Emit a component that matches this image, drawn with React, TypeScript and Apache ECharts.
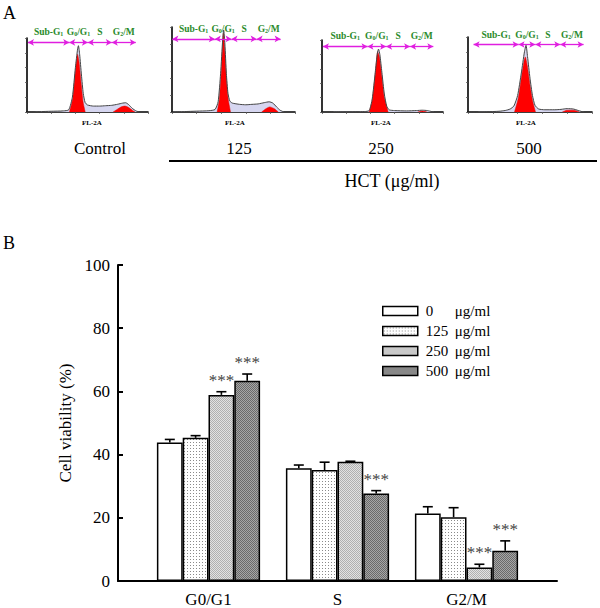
import React, { useEffect, useRef } from 'react';
import * as echarts from 'echarts';

const FONT = '"Liberation Serif", "Times New Roman", Times, serif';

// ---------- Panel A: flow cytometry histograms ----------
const DOSE_LABELS = ['Control', '125', '250', '500'];
const GATE_LABELS = ['Sub-G1', 'G0/G1', 'S', 'G2/M'];
// gate boundaries (FL-2A channel) for each histogram
const GATES_CONTROL = [8, 349, 503, 701, 899];
const GATES_125 = [3, 348, 484, 688, 883];
const GATES_250 = [8, 376, 530, 728, 920];
const GATES_500 = [45, 408, 543, 744, 932];
const GATE_LEVEL = [94, 86, 91, 90];

// total DNA histogram outlines [channel, % of axis height]
const OUTLINE_CONTROL = [[0,0],[100,0.5],[200,1],[300,1.5],[345,3],[375,20],[400,60],[418,85],[425,89.6],[435,78],[450,50],[465,25],[480,13],[500,9.5],[550,8],[600,8],[650,8.5],[700,9],[750,10.5],[790,12],[815,12.5],[840,10],[870,5],[900,1.5],[930,0]];
const OUTLINE_125 = [[0,0],[100,0.5],[200,1],[300,1.5],[350,3],[375,12],[395,45],[412,85],[420,96.5],[430,80],[442,45],[455,22],[470,13],[490,10.5],[550,9],[600,8.5],[650,9],[700,9.5],[750,11],[790,12],[820,10.5],[850,6],[880,2],[910,0]];
const OUTLINE_250 = [[0,0],[200,0.3],[350,0.6],[390,2],[415,18],[440,55],[458,82],[467,87.4],[478,80],[495,55],[515,25],[535,8],[555,3],[600,2],[700,1.5],[780,2],[830,2.5],[870,2],[910,0.5],[950,0]];
const OUTLINE_500 = [[0,0],[150,0.3],[250,1],[300,2],[340,4],[370,8],[400,22],[430,52],[455,80],[468,89],[480,74],[500,45],[520,22],[540,9],[570,4],[620,3],[700,3],[750,3.5],[800,4.5],[850,4],[880,2.5],[920,0.5],[950,0]];
// fitted G0/G1 peaks (red)
const G1_CONTROL = [[351,0],[378,18],[400,55],[418,78],[430,68],[448,38],[465,12],[481,0]];
const G1_125 = [[367,0],[385,15],[400,45],[414,85],[418,92.6],[428,75],[442,40],[458,14],[476,0]];
const G1_250 = [[390,0],[415,16],[440,52],[460,83.7],[475,76],[495,48],[515,20],[547,0]];
const G1_500 = [[375,0],[405,18],[430,45],[452,68],[462,73.5],[478,62],[500,36],[522,14],[545,0]];
// fitted G2/M peaks (red)
const G2_CONTROL = [[711,0],[745,3.5],[780,7],[810,8],[840,6],[870,2.5],[893,0]];
const G2_125 = [[729,0],[760,3.5],[795,6],[830,4],[864,0]];
const G2_250 = [[790,0],[830,1.5],[870,0]];
const G2_500 = [[760,0],[800,2.5],[850,2.5],[900,0]];

const GATES = [GATES_CONTROL, GATES_125, GATES_250, GATES_500];
const OUTLINES = [OUTLINE_CONTROL, OUTLINE_125, OUTLINE_250, OUTLINE_500];
const G1_PEAKS = [G1_CONTROL, G1_125, G1_250, G1_500];
const G2_PEAKS = [G2_CONTROL, G2_125, G2_250, G2_500];

// ---------- Panel B: cell cycle distribution ----------
const PHASES = ['G0/G1', 'S', 'G2/M'];
const DOSES = ['0', '125', '250', '500'];
const MEAN_0 = [43.8, 35.7, 21.4];
const MEAN_125 = [45.3, 35.1, 20.2];
const MEAN_250 = [58.9, 37.7, 4.3];
const MEAN_500 = [63.4, 27.7, 9.6];
const ERR_0 = [1.0, 1.0, 2.1];
const ERR_125 = [0.7, 2.5, 3.0];
const ERR_250 = [1.0, 0.2, 1.0];
const ERR_500 = [2.1, 0.9, 3.1];
const SIG_0 = [false, false, false];
const SIG_125 = [false, false, false];
const SIG_250 = [true, false, true];
const SIG_500 = [true, true, true];
const Y_TICKS = [0, 20, 40, 60, 80, 100];

const MEANS = [MEAN_0, MEAN_125, MEAN_250, MEAN_500];
const ERRS = [ERR_0, ERR_125, ERR_250, ERR_500];
const SIGS = [SIG_0, SIG_125, SIG_250, SIG_500];

// layout
const HIST_BOX = [
  { left: 27, top: 38, width: 121, height: 74 },
  { left: 172, top: 27, width: 123, height: 85 },
  { left: 322, top: 40, width: 121, height: 72 },
  { left: 468, top: 37, width: 124, height: 75 },
];
const DOSE_LABEL_X = [100, 239, 381, 529];
const FL_LABEL_X = [92, 235, 381, 526];

function makePattern(size: number, bg: string, fg: string, cells: number[][]) {
  const c = document.createElement('canvas');
  c.width = size;
  c.height = size;
  const ctx = c.getContext('2d')!;
  ctx.fillStyle = bg;
  ctx.fillRect(0, 0, size, size);
  ctx.fillStyle = fg;
  cells.forEach(([x, y]) => ctx.fillRect(x, y, 1, 1));
  return { image: c, repeat: 'repeat' as const };
}

const richify = (s: string) => s.replace(/G(\d)/g, 'G{s|$1}');

export default function App() {
  const ref = useRef<HTMLDivElement>(null);

  useEffect(() => {
    document.body.style.margin = '0';
    if (!ref.current) return;
    const chart = echarts.init(ref.current, undefined, { renderer: 'svg' });

    const fills: any[] = [
      '#ffffff',
      makePattern(3, '#ffffff', '#8a8a8a', [[1, 1]]),
      makePattern(2, '#e2e2e2', '#b0b0b0', [[0, 0], [1, 1]]),
      makePattern(2, '#a6a6a6', '#6a6a6a', [[0, 0], [1, 1]]),
    ];

    const grids: any[] = HIST_BOX.map((b) => ({ ...b }));
    grids.push({ left: 118, top: 265, width: 439, height: 316 });
    grids.push({ left: 144, top: 265, width: 387, height: 316 });

    const xAxes: any[] = HIST_BOX.map((_, i) => ({
      gridIndex: i, type: 'value', min: 0, max: 1000, interval: 200,
      axisLine: { show: true, lineStyle: { color: '#000', width: 1.6 } },
      axisTick: { show: true, length: 2, lineStyle: { color: '#555', width: 0.8 } },
      axisLabel: { show: false }, splitLine: { show: false },
    }));
    xAxes.push({
      gridIndex: 4, type: 'value', min: 0, max: 1,
      axisLine: { show: true, onZero: false, lineStyle: { color: '#000', width: 2 } },
      axisTick: { show: false }, axisLabel: { show: false }, splitLine: { show: false },
    });
    xAxes.push({
      gridIndex: 5, type: 'category', data: PHASES,
      axisLine: { show: false }, axisTick: { show: false },
      axisLabel: { fontSize: 17, color: '#000', fontFamily: FONT, margin: 10 },
    });

    const yAxes: any[] = HIST_BOX.map((_, i) => ({
      gridIndex: i, type: 'value', min: 0, max: 100, interval: 20,
      axisLine: { show: true, lineStyle: { color: '#000', width: 1.6 } },
      axisTick: { show: true, length: 2, lineStyle: { color: '#555', width: 0.8 } },
      axisLabel: { show: false }, splitLine: { show: false },
    }));
    yAxes.push({
      gridIndex: 4, type: 'value', min: Y_TICKS[0], max: Y_TICKS[Y_TICKS.length - 1], interval: Y_TICKS[1] - Y_TICKS[0],
      axisLine: { show: true, lineStyle: { color: '#000', width: 2 } },
      axisTick: { show: true, inside: true, length: 5, lineStyle: { color: '#000', width: 2 } },
      axisLabel: { fontSize: 17, color: '#000', fontFamily: FONT, margin: 8 },
      splitLine: { show: false },
      name: 'Cell viability (%)', nameLocation: 'middle', nameGap: 44,
      nameTextStyle: { fontSize: 17, color: '#000', fontFamily: FONT },
    });
    yAxes.push({ gridIndex: 5, type: 'value', min: 0, max: 100, show: false });

    const series: any[] = [];
    HIST_BOX.forEach((_, i) => {
      const common = { type: 'line', xAxisIndex: i, yAxisIndex: i, symbol: 'none', smooth: 0.2, silent: true };
      series.push({ ...common, data: OUTLINES[i], lineStyle: { width: 0 }, areaStyle: { color: '#d6d6f0', opacity: 1 }, z: 1 });
      series.push({ ...common, data: G1_PEAKS[i], lineStyle: { color: '#e00000', width: 0.5 }, areaStyle: { color: '#ff0000', opacity: 1 }, z: 2 });
      series.push({ ...common, data: G2_PEAKS[i], lineStyle: { color: '#e00000', width: 0.5 }, areaStyle: { color: '#ff0000', opacity: 1 }, z: 2 });
      series.push({
        ...common, data: OUTLINES[i], lineStyle: { color: '#444', width: 1 }, z: 3,
        markLine: {
          silent: true, animation: false,
          symbol: ['arrow', 'arrow'], symbolSize: [5, 6],
          lineStyle: { color: '#e01ee0', width: 1.3, type: 'solid' },
          label: {
            show: true, position: 'insideMiddleTop', distance: 5,
            formatter: (p: any) => richify(p.name),
            color: '#2a8a2a', fontSize: 9.5, fontWeight: 'bold', fontFamily: FONT,
            rich: { s: { fontSize: 6, fontWeight: 'bold', color: '#2a8a2a', fontFamily: FONT, verticalAlign: 'bottom', lineHeight: 6 } },
          },
          emphasis: { disabled: true },
          data: GATE_LABELS.map((name, k) => [
            { coord: [GATES[i][k], GATE_LEVEL[i]], name },
            { coord: [GATES[i][k + 1], GATE_LEVEL[i]] },
          ]),
        },
      });
    });

    DOSES.forEach((d, k) => {
      series.push({
        type: 'bar', name: d, xAxisIndex: 5, yAxisIndex: 5, data: MEANS[k],
        barWidth: '20%', barGap: '0%',
        itemStyle: { color: fills[k], borderColor: '#000', borderWidth: 1.5 },
        z: 2,
      });
    });

    const errData: number[][] = [];
    DOSES.forEach((_, k) => {
      PHASES.forEach((__, c) => {
        errData.push([c, k, MEANS[k][c], ERRS[k][c], SIGS[k][c] ? 1 : 0]);
      });
    });
    series.push({
      type: 'custom', xAxisIndex: 5, yAxisIndex: 5, data: errData, encode: { x: 0, y: 2 }, z: 3, silent: true,
      renderItem: (_params: any, api: any) => {
        const cat = api.value(0), k = api.value(1), m = api.value(2), e = api.value(3), sig = api.value(4);
        const band = api.size([1, 0])[0];
        const c = api.coord([cat, m]);
        const x = c[0] + (k - 1.5) * band * 0.2;
        const yTop = c[1];
        const yErr = api.coord([cat, m + e])[1];
        const half = 5;
        const children: any[] = [
          { type: 'line', shape: { x1: x, y1: yTop, x2: x, y2: yErr }, style: { stroke: '#000', lineWidth: 1.6 } },
          { type: 'line', shape: { x1: x - half, y1: yErr, x2: x + half, y2: yErr }, style: { stroke: '#000', lineWidth: 1.6 } },
        ];
        if (sig) {
          children.push({
            type: 'text',
            style: { text: '***', x, y: yErr - 3, align: 'center', verticalAlign: 'bottom', fill: '#444', fontSize: 17, fontFamily: FONT },
          });
        }
        return { type: 'group', children };
      },
    });

    const txt = (text: string, x: number, y: number, font: string, align = 'center') => ({
      type: 'text', x, y, silent: true,
      style: { text, font, fill: '#000', align, verticalAlign: 'middle', textAlign: align, textVerticalAlign: 'middle' },
    });

    const graphics: any[] = [
      txt('A', 3, 13, `18px ${FONT}`, 'left'),
      txt('B', 3, 243, `18px ${FONT}`, 'left'),
      ...DOSE_LABELS.map((l, i) => txt(l, DOSE_LABEL_X[i], 148, `17px ${FONT}`)),
      ...FL_LABEL_X.map((x) => txt('FL-2A', x, 123, `bold 7px ${FONT}`)),
      { type: 'line', silent: true, shape: { x1: 169, y1: 161, x2: 597, y2: 161 }, style: { stroke: '#000', lineWidth: 2 } },
      txt('HCT (μg/ml)', 392, 181, `18px ${FONT}`),
    ];

    chart.setOption({
      animation: false,
      backgroundColor: '#fff',
      grid: grids,
      xAxis: xAxes,
      yAxis: yAxes,
      legend: {
        data: DOSES, orient: 'vertical', left: 382, top: 302, padding: 0,
        itemWidth: 35, itemHeight: 9, itemGap: 2, icon: 'rect', selectedMode: false,
        itemStyle: { borderColor: '#000', borderWidth: 1.5 },
        formatter: (n: string) => `{a|${n}}{b|μg/ml}`,
        textStyle: {
          fontSize: 15, color: '#000', fontFamily: FONT, lineHeight: 18,
          rich: {
            a: { width: 29, fontSize: 15, color: '#000', fontFamily: FONT, lineHeight: 18, padding: [0, 0, 0, 3] },
            b: { fontSize: 15, color: '#000', fontFamily: FONT, lineHeight: 18 },
          },
        },
      },
      graphic: graphics,
      series,
    });

    return () => chart.dispose();
  }, []);

  return <div ref={ref} style={{ width: 600, height: 608 }} />;
}
